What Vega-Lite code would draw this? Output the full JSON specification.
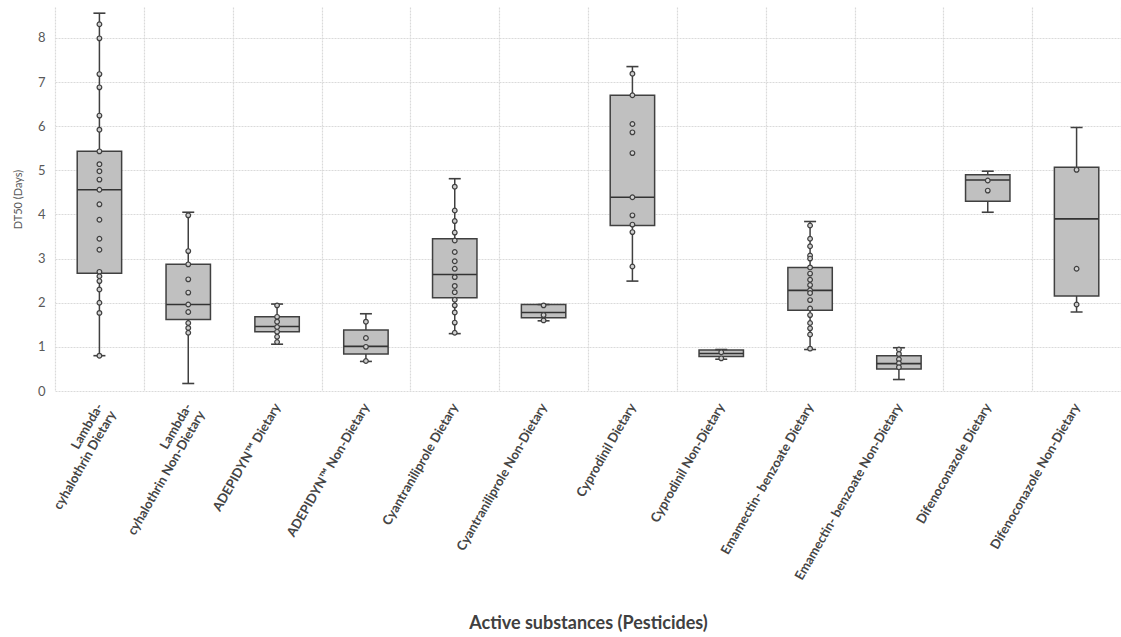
{
  "$schema": "https://vega.github.io/schema/vega-lite/v6.json",
  "autosize": "none",
  "width": 1066,
  "height": 384,
  "padding": {"left": 55, "top": 7, "right": 0, "bottom": 246},
  "background": "white",
  "config": {
    "view": {"stroke": null},
    "font": "Lato",
    "axis": {
      "gridColor": "#dadada",
      "gridDash": [2, 1],
      "gridWidth": 1.2,
      "domain": false,
      "ticks": false
    }
  },
  "datasets": {
    "boxes": [
      {"substance": "Lambda-|cyhalothrin Dietary", "min": 0.8, "q1": 2.67, "median": 4.56, "q3": 5.43, "max": 8.56},
      {"substance": "Lambda-|cyhalothrin Non-Dietary", "min": 0.17, "q1": 1.62, "median": 1.96, "q3": 2.87, "max": 4.05},
      {"substance": "ADEPIDYN™   Dietary", "min": 1.06, "q1": 1.34, "median": 1.46, "q3": 1.68, "max": 1.97},
      {"substance": "ADEPIDYN™ Non-Dietary", "min": 0.67, "q1": 0.84, "median": 1.01, "q3": 1.38, "max": 1.75},
      {"substance": "Cyantraniliprole Dietary", "min": 1.3, "q1": 2.11, "median": 2.64, "q3": 3.45, "max": 4.81},
      {"substance": "Cyantraniliprole Non-Dietary", "min": 1.59, "q1": 1.66, "median": 1.78, "q3": 1.96, "max": 1.96},
      {"substance": "Cyprodinil Dietary", "min": 2.49, "q1": 3.75, "median": 4.39, "q3": 6.7, "max": 7.35},
      {"substance": "Cyprodinil Non-Dietary", "min": 0.72, "q1": 0.78, "median": 0.85, "q3": 0.93, "max": 0.94},
      {"substance": "Emamectin- benzoate Dietary", "min": 0.94, "q1": 1.83, "median": 2.28, "q3": 2.8, "max": 3.84},
      {"substance": "Emamectin- benzoate Non-Dietary", "min": 0.26, "q1": 0.5, "median": 0.62, "q3": 0.8, "max": 0.98},
      {"substance": "Difenoconazole Dietary", "min": 4.05, "q1": 4.3, "median": 4.78, "q3": 4.9, "max": 4.98},
      {"substance": "Difenoconazole Non-Dietary", "min": 1.79, "q1": 2.15, "median": 3.9, "q3": 5.07, "max": 5.97}
    ],
    "pts": [
      {"substance": "Lambda-|cyhalothrin Dietary", "dt50": 8.31},
      {"substance": "Lambda-|cyhalothrin Dietary", "dt50": 7.99},
      {"substance": "Lambda-|cyhalothrin Dietary", "dt50": 7.18},
      {"substance": "Lambda-|cyhalothrin Dietary", "dt50": 6.88},
      {"substance": "Lambda-|cyhalothrin Dietary", "dt50": 6.24},
      {"substance": "Lambda-|cyhalothrin Dietary", "dt50": 5.92},
      {"substance": "Lambda-|cyhalothrin Dietary", "dt50": 5.43},
      {"substance": "Lambda-|cyhalothrin Dietary", "dt50": 5.14},
      {"substance": "Lambda-|cyhalothrin Dietary", "dt50": 4.98},
      {"substance": "Lambda-|cyhalothrin Dietary", "dt50": 4.79},
      {"substance": "Lambda-|cyhalothrin Dietary", "dt50": 4.56},
      {"substance": "Lambda-|cyhalothrin Dietary", "dt50": 4.23},
      {"substance": "Lambda-|cyhalothrin Dietary", "dt50": 3.88},
      {"substance": "Lambda-|cyhalothrin Dietary", "dt50": 3.45},
      {"substance": "Lambda-|cyhalothrin Dietary", "dt50": 3.2},
      {"substance": "Lambda-|cyhalothrin Dietary", "dt50": 2.7},
      {"substance": "Lambda-|cyhalothrin Dietary", "dt50": 2.6},
      {"substance": "Lambda-|cyhalothrin Dietary", "dt50": 2.49},
      {"substance": "Lambda-|cyhalothrin Dietary", "dt50": 2.3},
      {"substance": "Lambda-|cyhalothrin Dietary", "dt50": 2.0},
      {"substance": "Lambda-|cyhalothrin Dietary", "dt50": 1.77},
      {"substance": "Lambda-|cyhalothrin Dietary", "dt50": 0.8},
      {"substance": "Lambda-|cyhalothrin Non-Dietary", "dt50": 3.98},
      {"substance": "Lambda-|cyhalothrin Non-Dietary", "dt50": 3.17},
      {"substance": "Lambda-|cyhalothrin Non-Dietary", "dt50": 2.87},
      {"substance": "Lambda-|cyhalothrin Non-Dietary", "dt50": 2.53},
      {"substance": "Lambda-|cyhalothrin Non-Dietary", "dt50": 2.23},
      {"substance": "Lambda-|cyhalothrin Non-Dietary", "dt50": 1.96},
      {"substance": "Lambda-|cyhalothrin Non-Dietary", "dt50": 1.79},
      {"substance": "Lambda-|cyhalothrin Non-Dietary", "dt50": 1.54},
      {"substance": "Lambda-|cyhalothrin Non-Dietary", "dt50": 1.43},
      {"substance": "Lambda-|cyhalothrin Non-Dietary", "dt50": 1.32},
      {"substance": "ADEPIDYN™   Dietary", "dt50": 1.94},
      {"substance": "ADEPIDYN™   Dietary", "dt50": 1.68},
      {"substance": "ADEPIDYN™   Dietary", "dt50": 1.57},
      {"substance": "ADEPIDYN™   Dietary", "dt50": 1.45},
      {"substance": "ADEPIDYN™   Dietary", "dt50": 1.34},
      {"substance": "ADEPIDYN™   Dietary", "dt50": 1.23},
      {"substance": "ADEPIDYN™   Dietary", "dt50": 1.11},
      {"substance": "ADEPIDYN™ Non-Dietary", "dt50": 1.57},
      {"substance": "ADEPIDYN™ Non-Dietary", "dt50": 1.2},
      {"substance": "ADEPIDYN™ Non-Dietary", "dt50": 1.0},
      {"substance": "ADEPIDYN™ Non-Dietary", "dt50": 0.68},
      {"substance": "Cyantraniliprole Dietary", "dt50": 4.63},
      {"substance": "Cyantraniliprole Dietary", "dt50": 4.09},
      {"substance": "Cyantraniliprole Dietary", "dt50": 3.85},
      {"substance": "Cyantraniliprole Dietary", "dt50": 3.59},
      {"substance": "Cyantraniliprole Dietary", "dt50": 3.41},
      {"substance": "Cyantraniliprole Dietary", "dt50": 3.15},
      {"substance": "Cyantraniliprole Dietary", "dt50": 2.94},
      {"substance": "Cyantraniliprole Dietary", "dt50": 2.77},
      {"substance": "Cyantraniliprole Dietary", "dt50": 2.58},
      {"substance": "Cyantraniliprole Dietary", "dt50": 2.38},
      {"substance": "Cyantraniliprole Dietary", "dt50": 2.24},
      {"substance": "Cyantraniliprole Dietary", "dt50": 2.07},
      {"substance": "Cyantraniliprole Dietary", "dt50": 1.94},
      {"substance": "Cyantraniliprole Dietary", "dt50": 1.78},
      {"substance": "Cyantraniliprole Dietary", "dt50": 1.55},
      {"substance": "Cyantraniliprole Dietary", "dt50": 1.32},
      {"substance": "Cyantraniliprole Non-Dietary", "dt50": 1.94},
      {"substance": "Cyantraniliprole Non-Dietary", "dt50": 1.72},
      {"substance": "Cyantraniliprole Non-Dietary", "dt50": 1.6},
      {"substance": "Cyprodinil Dietary", "dt50": 7.19},
      {"substance": "Cyprodinil Dietary", "dt50": 6.7},
      {"substance": "Cyprodinil Dietary", "dt50": 6.05},
      {"substance": "Cyprodinil Dietary", "dt50": 5.86},
      {"substance": "Cyprodinil Dietary", "dt50": 5.39},
      {"substance": "Cyprodinil Dietary", "dt50": 4.39},
      {"substance": "Cyprodinil Dietary", "dt50": 3.98},
      {"substance": "Cyprodinil Dietary", "dt50": 3.77},
      {"substance": "Cyprodinil Dietary", "dt50": 3.6},
      {"substance": "Cyprodinil Dietary", "dt50": 2.82},
      {"substance": "Cyprodinil Non-Dietary", "dt50": 0.88},
      {"substance": "Cyprodinil Non-Dietary", "dt50": 0.74},
      {"substance": "Emamectin- benzoate Dietary", "dt50": 3.75},
      {"substance": "Emamectin- benzoate Dietary", "dt50": 3.45},
      {"substance": "Emamectin- benzoate Dietary", "dt50": 3.28},
      {"substance": "Emamectin- benzoate Dietary", "dt50": 3.07},
      {"substance": "Emamectin- benzoate Dietary", "dt50": 3.0},
      {"substance": "Emamectin- benzoate Dietary", "dt50": 2.8},
      {"substance": "Emamectin- benzoate Dietary", "dt50": 2.66},
      {"substance": "Emamectin- benzoate Dietary", "dt50": 2.52},
      {"substance": "Emamectin- benzoate Dietary", "dt50": 2.4},
      {"substance": "Emamectin- benzoate Dietary", "dt50": 2.28},
      {"substance": "Emamectin- benzoate Dietary", "dt50": 2.22},
      {"substance": "Emamectin- benzoate Dietary", "dt50": 2.06},
      {"substance": "Emamectin- benzoate Dietary", "dt50": 1.87},
      {"substance": "Emamectin- benzoate Dietary", "dt50": 1.72},
      {"substance": "Emamectin- benzoate Dietary", "dt50": 1.54},
      {"substance": "Emamectin- benzoate Dietary", "dt50": 1.42},
      {"substance": "Emamectin- benzoate Dietary", "dt50": 1.28},
      {"substance": "Emamectin- benzoate Dietary", "dt50": 0.96},
      {"substance": "Emamectin- benzoate Non-Dietary", "dt50": 0.94},
      {"substance": "Emamectin- benzoate Non-Dietary", "dt50": 0.84},
      {"substance": "Emamectin- benzoate Non-Dietary", "dt50": 0.72},
      {"substance": "Emamectin- benzoate Non-Dietary", "dt50": 0.63},
      {"substance": "Emamectin- benzoate Non-Dietary", "dt50": 0.54},
      {"substance": "Difenoconazole Dietary", "dt50": 4.77},
      {"substance": "Difenoconazole Dietary", "dt50": 4.54},
      {"substance": "Difenoconazole Non-Dietary", "dt50": 5.01},
      {"substance": "Difenoconazole Non-Dietary", "dt50": 2.77},
      {"substance": "Difenoconazole Non-Dietary", "dt50": 1.96}
    ]
  },
  "encoding": {
    "x": {
      "field": "substance",
      "type": "nominal",
      "scale": {
        "domain": [
          "Lambda-|cyhalothrin Dietary",
          "Lambda-|cyhalothrin Non-Dietary",
          "ADEPIDYN™   Dietary",
          "ADEPIDYN™ Non-Dietary",
          "Cyantraniliprole Dietary",
          "Cyantraniliprole Non-Dietary",
          "Cyprodinil Dietary",
          "Cyprodinil Non-Dietary",
          "Emamectin- benzoate Dietary",
          "Emamectin- benzoate Non-Dietary",
          "Difenoconazole Dietary",
          "Difenoconazole Non-Dietary"
        ],
        "paddingInner": 0,
        "paddingOuter": 0
      },
      "axis": {
        "title": "Active substances (Pesticides)",
        "titleFont": "Lato",
        "titleFontSize": 18,
        "titleFontWeight": "bold",
        "titleColor": "#404040",
        "titleY": 237,
        "titleBaseline": "alphabetic",
        "labelExpr": "split(datum.label, '|')",
        "labelAngle": -60,
        "labelAlign": "right",
        "labelBaseline": "middle",
        "labelPadding": 13,
        "labelFont": "Lato",
        "labelFontSize": 13,
        "labelFontWeight": "bold",
        "labelColor": "#454545",
        "labelLimit": 300,
        "labelOverlap": false,
        "grid": true,
        "tickBand": "extent"
      }
    }
  },
  "layer": [
    {
      "data": {"name": "boxes"},
      "mark": {"type": "rule", "color": "#404040", "strokeWidth": 1.5, "opacity": 1},
      "encoding": {
        "y": {
          "field": "min",
          "type": "quantitative",
          "scale": {"domain": [0, 8.7], "nice": false, "zero": true},
          "axis": {
            "title": "DT50 (Days)",
            "titleFont": "Lato",
            "titleFontSize": 11,
            "titleFontWeight": "normal",
            "titleColor": "#595959",
            "titlePadding": 14,
            "values": [0, 1, 2, 3, 4, 5, 6, 7, 8],
            "labelFont": "Lato",
            "labelFontSize": 13,
            "labelColor": "#595959",
            "labelPadding": 10,
            "grid": true
          }
        },
        "y2": {"field": "max"}
      }
    },
    {
      "data": {"name": "boxes"},
      "mark": {"type": "bar", "width": {"band": 0.5}, "fill": "#c0c0c0", "stroke": "#404040", "strokeWidth": 1.5, "opacity": 1},
      "encoding": {
        "y": {"field": "q1", "type": "quantitative"},
        "y2": {"field": "q3"}
      }
    },
    {
      "data": {"name": "boxes"},
      "mark": {"type": "tick", "size": 44, "thickness": 1.6, "color": "#333333", "opacity": 1},
      "encoding": {"y": {"field": "median", "type": "quantitative"}}
    },
    {
      "data": {"name": "boxes"},
      "mark": {"type": "tick", "size": 12, "thickness": 1.6, "color": "#404040", "opacity": 1},
      "encoding": {"y": {"field": "min", "type": "quantitative"}}
    },
    {
      "data": {"name": "boxes"},
      "mark": {"type": "tick", "size": 12, "thickness": 1.6, "color": "#404040", "opacity": 1},
      "encoding": {"y": {"field": "max", "type": "quantitative"}}
    },
    {
      "data": {"name": "pts"},
      "mark": {"type": "point", "shape": "circle", "size": 22, "filled": true, "fill": "#d0d0d0", "stroke": "#404040", "strokeWidth": 1.2, "opacity": 1},
      "encoding": {"y": {"field": "dt50", "type": "quantitative"}}
    }
  ]
}
